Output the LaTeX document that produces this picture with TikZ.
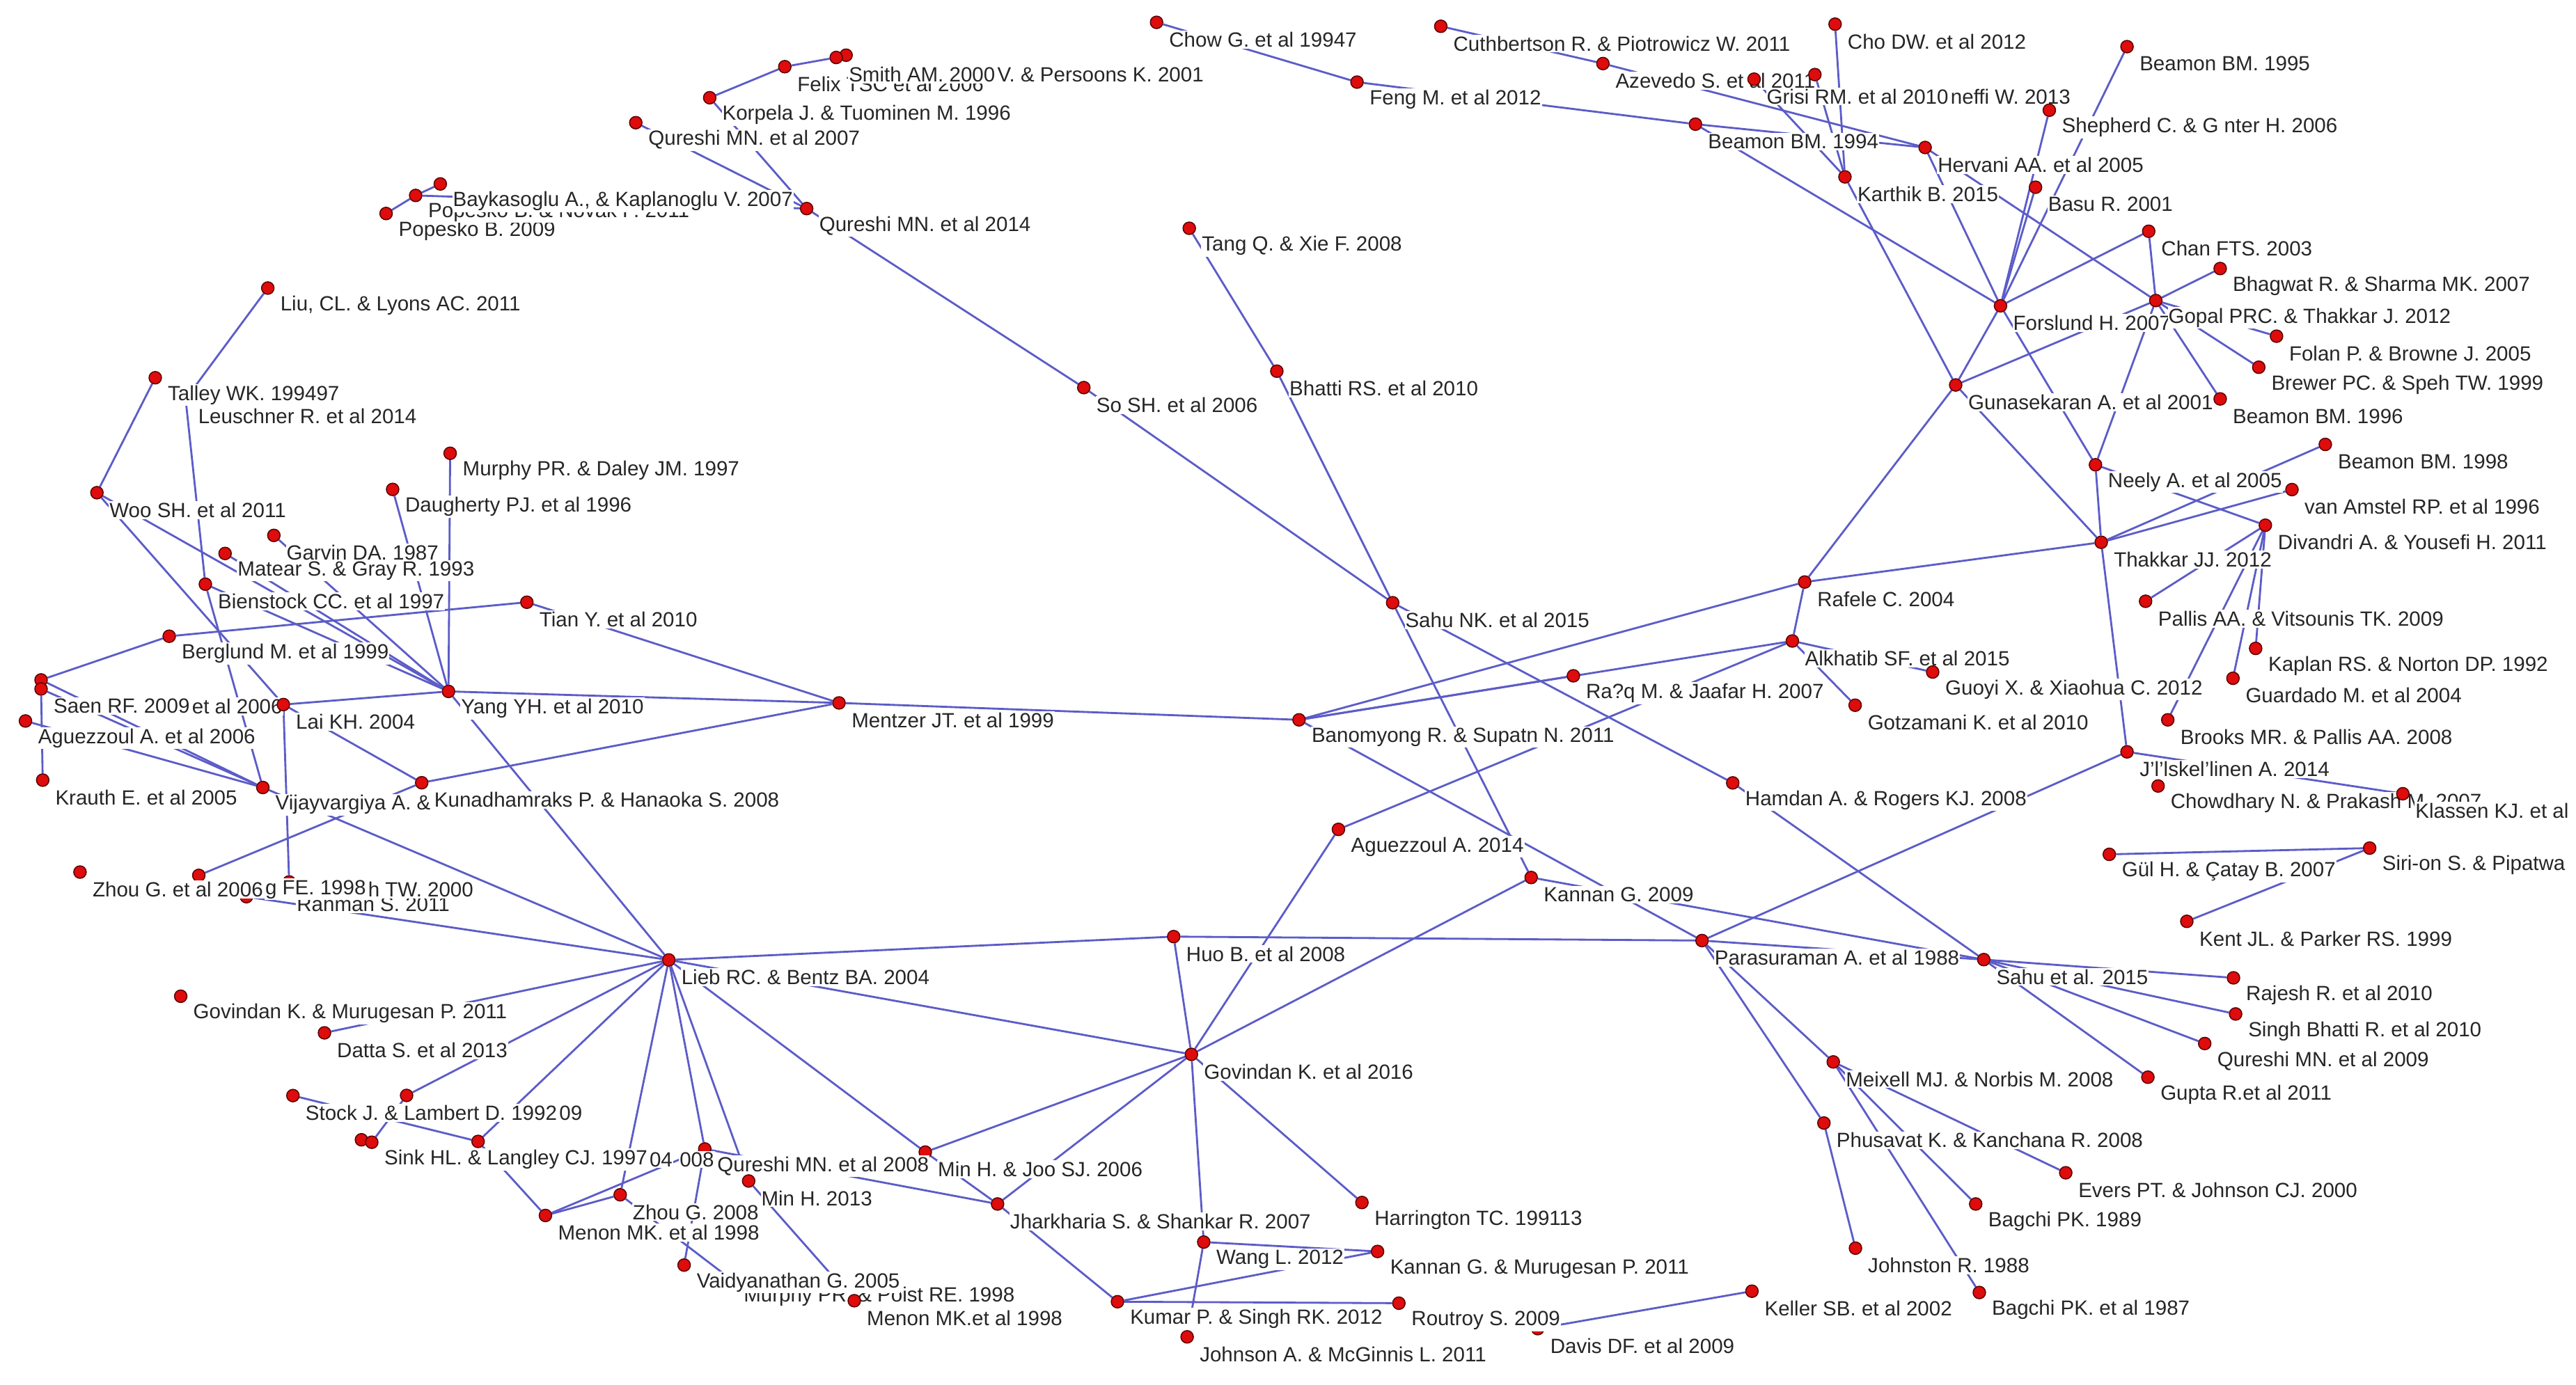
\documentclass[tikz,border=0pt]{standalone}
\usepackage{fontspec}
\setmainfont{Liberation Sans}
\usetikzlibrary{calc}
\pgfdeclarelayer{bg}
\pgfdeclarelayer{edges}
\pgfsetlayers{bg,edges,main}
\definecolor{edgeblue}{RGB}{92,92,200}
\definecolor{dotred}{RGB}{222,12,12}
\definecolor{dotrim}{RGB}{90,0,0}
\tikzset{
  dot/.style={circle, fill=dotred, draw=dotrim, line width=0.45pt, inner sep=0pt, minimum size=0.19cm},
  lab/.style={anchor=west, fill=white, inner xsep=0.3pt, inner ysep=0.6pt, text=black!85, font=\fontsize{8.9}{10}\selectfont},
  edge/.style={draw=edgeblue, line width=0.85pt}
}
\newcommand\Nd[4]{\node[dot] (#1) at (#2,#3) {}; \node[lab] (#1-l) at ($(#1)+(7,10.5)$) {#4};}
\newcommand\Dt[3]{\node[dot] (#1) at (#2,#3) {};}
\newcommand\La[4]{\node[lab] (#1-l) at (#2,#3) {#4};}
\newcommand\Lc[3]{\node[lab] (#1-l) at (#2.east) {#3};}
\newcommand\Ed[2]{\draw[edge] (#1) -- (#2);}
\begin{document}
\begin{tikzpicture}[x=0.025cm,y=-0.025cm]
\useasboundingbox (0,0) rectangle (1568,843);
\begin{pgfonlayer}{bg}
\fill[white] (0,0) rectangle (1568,843);
\end{pgfonlayer}
\clip (0,0) rectangle (1568,843);
% ---- top left
\Nd{popesko}{235}{130}{Popesko B. 2009}
\Dt{novak}{253}{119}
\La{novak}{260}{129}{Popesko B. \& Novak P. 2011}
\Nd{baykas}{268}{112}{Baykasoglu A., \& Kaplanoglu V. 2007}
\Nd{q07}{387}{74.7}{Qureshi MN. et al 2007}
\Nd{korpela}{432}{59.5}{Korpela J. \& Tuominen M. 1996}
\Nd{felix}{477.7}{40.6}{Felix TSC et al 2006}
\Dt{persoons}{515}{33.6}
\Nd{smith}{509}{35}{Smith AM. 2000}
\Lc{persoons}{smith-l}{V. \& Persoons K. 2001}
\Nd{q14}{491}{127}{Qureshi MN. et al 2014}
\Nd{so}{659.7}{236}{So SH. et al 2006}
\Nd{tang}{723.9}{139}{Tang Q. \& Xie F. 2008}
\Nd{bhattirs}{777.2}{226}{Bhatti RS. et al 2010}
\Nd{chow}{704}{13.6}{Chow G. et al 19947}
\Nd{feng}{826}{50}{Feng M. et al 2012}
\Nd{cuth}{877}{16}{Cuthbertson R. \& Piotrowicz W. 2011}
\Nd{azevedo}{975.7}{38.7}{Azevedo S. et al 2011}
\Dt{neffi}{1104.7}{45.4}
\Nd{grisi}{1067.7}{48.2}{Grisi RM. et al 2010}
\Lc{neffi}{grisi-l}{neffi W. 2013}
\Nd{cho}{1117}{14.7}{Cho DW. et al 2012}
% ---- top right
\Nd{beamon95}{1294.7}{28.4}{Beamon BM. 1995}
\Nd{shepherd}{1247.4}{67.1}{Shepherd C. \& G nter H. 2006}
\Nd{beamon94}{1032}{75.6}{Beamon BM. 1994}
\Nd{hervani}{1171.8}{89.8}{Hervani AA. et al 2005}
\Nd{karthik}{1123}{107.7}{Karthik B. 2015}
\Nd{basu}{1239}{114}{Basu R. 2001}
\Nd{chan}{1307.9}{140.8}{Chan FTS. 2003}
\Nd{bhagwat}{1351.4}{163.5}{Bhagwat R. \& Sharma MK. 2007}
\Nd{forslund}{1217.7}{186.2}{Forslund H. 2007}
\Nd{gopal}{1312.2}{183}{Gopal PRC. \& Thakkar J. 2012}
\Nd{folan}{1385.7}{204.7}{Folan P. \& Browne J. 2005}
\Nd{brewer}{1374.9}{223.6}{Brewer PC. \& Speh TW. 1999}
\Nd{guna}{1190.4}{234.4}{Gunasekaran A. et al 2001}
\Nd{beamon96}{1351.4}{242.9}{Beamon BM. 1996}
\Nd{beamon98}{1415.4}{270.6}{Beamon BM. 1998}
\Nd{neely}{1275.5}{283}{Neely A. et al 2005}
\Nd{vanamstel}{1395.1}{298.1}{van Amstel RP. et al 1996}
\Nd{divandri}{1378.9}{319.8}{Divandri A. \& Yousefi H. 2011}
\Nd{thakkar}{1279}{330.2}{Thakkar JJ. 2012}
\Nd{pallis}{1306}{366.1}{Pallis AA. \& Vitsounis TK. 2009}
\Nd{kaplan}{1373}{394.8}{Kaplan RS. \& Norton DP. 1992}
\Nd{guardado}{1359.2}{413}{Guardado M. et al 2004}
\Nd{brooks}{1319.5}{438.3}{Brooks MR. \& Pallis AA. 2008}
\Nd{jaas}{1294.7}{457.8}{J’l’lskel’linen A. 2014}
\Nd{chowdhary}{1313.6}{478.6}{Chowdhary N. \& Prakash M. 2007}
\Nd{klassen}{1462.6}{483.3}{Klassen KJ. et al}
\Nd{gul}{1283.9}{520.2}{Gül H. \& Çatay B. 2007}
\Nd{sirion}{1442.4}{516.4}{Siri-on S. \& Pipatwa}
\Nd{kent}{1331.1}{561}{Kent JL. \& Parker RS. 1999}
% ---- middle
\Nd{sahunk}{847.7}{367}{Sahu NK. et al 2015}
\Nd{rafele}{1098.5}{354.4}{Rafele C. 2004}
\Nd{alkhatib}{1091}{390.3}{Alkhatib SF. et al 2015}
\Nd{rafiq}{957.7}{411.5}{Ra?q M. \& Jaafar H. 2007}
\Nd{guoyi}{1176.4}{409.2}{Guoyi X. \& Xiaohua C. 2012}
\Nd{gotzamani}{1129.2}{429.4}{Gotzamani K. et al 2010}
\Nd{banom}{790.7}{438.3}{Banomyong R. \& Supatn N. 2011}
\Nd{mentzer}{510.7}{428}{Mentzer JT. et al 1999}
\Nd{hamdan}{1054.7}{476.7}{Hamdan A. \& Rogers KJ. 2008}
\Nd{aguez14}{814.7}{505}{Aguezzoul A. 2014}
\Nd{kannan09}{932}{534.3}{Kannan G. 2009}
\Nd{parasuraman}{1036}{572.7}{Parasuraman A. et al 1988}
\Nd{sahu15}{1207.5}{584.3}{Sahu et al. 2015}
\Nd{rajesh}{1359.5}{595.4}{Rajesh R. et al 2010}
\Nd{singh}{1360.8}{617.4}{Singh Bhatti R. et al 2010}
\Nd{q09}{1342}{635.4}{Qureshi MN. et al 2009}
\Nd{gupta}{1307.4}{655.9}{Gupta R.et al 2011}
\Nd{meixell}{1115.9}{646.6}{Meixell MJ. \& Norbis M. 2008}
\Nd{phusavat}{1110.2}{683.8}{Phusavat K. \& Kanchana R. 2008}
\Nd{evers}{1257.4}{714.1}{Evers PT. \& Johnson CJ. 2000}
\Nd{bagchi89}{1202.6}{733.1}{Bagchi PK. 1989}
\Nd{johnston}{1129.4}{760}{Johnston R. 1988}
\Nd{bagchi87}{1204.8}{787}{Bagchi PK. et al 1987}
\Nd{keller}{1066.4}{786.2}{Keller SB. et al 2002}
\Nd{davis}{936}{809}{Davis DF. et al 2009}
\Nd{routroy}{851.5}{793.5}{Routroy S. 2009}
\Nd{johnson}{722.6}{814}{Johnson A. \& McGinnis L. 2011}
\Nd{kumar}{680.2}{792.6}{Kumar P. \& Singh RK. 2012}
\Nd{wang}{732.7}{756.3}{Wang L. 2012}
\Nd{kannanM}{838.5}{762}{Kannan G. \& Murugesan P. 2011}
\Nd{harrington}{829}{732.2}{Harrington TC. 199113}
\Nd{jhark}{607.2}{733.1}{Jharkharia S. \& Shankar R. 2007}
\Nd{minjoo}{563.2}{701.5}{Min H. \& Joo SJ. 2006}
\Nd{gov16}{725.2}{642}{Govindan K. et al 2016}
\Nd{huo}{714.4}{570.3}{Huo B. et al 2008}
\Nd{lieb}{407.1}{584.5}{Lieb RC. \& Bentz BA. 2004}
% ---- lower left
\Nd{murphyP}{445}{779}{Murphy PR. \& Poist RE. 1998}
\Nd{vaid}{416.4}{770.3}{Vaidyanathan G. 2005}
\Nd{menon2}{520}{792}{Menon MK.et al 1998}
\Nd{q08}{429}{699.6}{Qureshi MN. et al 2008}
\Nd{min13}{455.7}{719.1}{Min H. 2013}
\Nd{zhou08}{377.5}{727.5}{Zhou G. 2008}
\Nd{menon98}{332}{740.1}{Menon MK. et al 1998}
\Dt{Y}{291}{695}
\Dt{x09}{247.5}{667}
\Nd{stock}{178.3}{667.1}{Stock J. \& Lambert D. 1992}
\Lc{x09}{stock-l}{09}
\Dt{sinka}{220}{694}
\Nd{sinkb}{226.3}{695.5}{Sink HL. \& Langley CJ. 1997}
\Lc{Y}{sinkb-l}{04}
\node[lab] (w-l) at ($(Y-l.east)+(3,0)$) {008};
\Nd{datta}{197.5}{628.9}{Datta S. et al 2013}
\Nd{govM}{110}{606.6}{Govindan K. \& Murugesan P. 2011}
\Dt{rahman}{150}{546}
\Dt{hfe}{121}{533}
\Dt{htw}{176}{537}
\La{rahman}{180}{550.5}{Rahman S. 2011}
\Nd{zhou06}{48.7}{531}{Zhou G. et al 2006}
\Lc{hfe}{zhou06-l}{g FE. 1998}
\Lc{htw}{hfe-l}{h TW. 2000}
% ---- upper left
\Nd{liu}{163}{175.4}{Liu, CL. \& Lyons AC. 2011}
\Nd{leuschner}{113}{243}{Leuschner R. et al 2014}
\Nd{talley}{94.5}{230}{Talley WK. 199497}
\Nd{woo}{59}{300}{Woo SH. et al 2011}
\Nd{murphyD}{274}{276}{Murphy PR. \& Daley JM. 1997}
\Nd{daugherty}{239}{298}{Daugherty PJ. et al 1996}
\Nd{garvin}{166.7}{326}{Garvin DA. 1987}
\Nd{matear}{137}{337}{Matear S. \& Gray R. 1993}
\Nd{bienstock}{125}{355.7}{Bienstock CC. et al 1997}
\Nd{tian}{320.7}{366.7}{Tian Y. et al 2010}
\Nd{berglund}{103}{387.4}{Berglund M. et al 1999}
\Nd{yang}{273}{421}{Yang YH. et al 2010}
\Dt{saen1}{25}{414}
\Nd{saen2}{25}{419.5}{Saen RF. 2009}
\Lc{saen1}{saen2-l}{et al 2006}
\Nd{aguez06}{15.5}{439}{Aguezzoul A. et al 2006}
\Nd{lai}{172.5}{429}{Lai KH. 2004}
\Nd{krauth}{26}{475}{Krauth E. et al 2005}
\Nd{vijay}{160}{479.5}{Vijayvargiya A. \&}
\Nd{kunad}{256.7}{476.6}{Kunadhamraks P. \& Hanaoka S. 2008}
% ---- edges
\begin{pgfonlayer}{edges}
\Ed{popesko}{novak}\Ed{novak}{baykas}\Ed{novak}{q14}\Ed{q07}{q14}\Ed{korpela}{q14}
\Ed{korpela}{felix}\Ed{felix}{smith}\Ed{smith}{persoons}\Ed{q14}{so}\Ed{so}{sahunk}
\Ed{tang}{bhattirs}\Ed{bhattirs}{sahunk}\Ed{sahunk}{kannan09}\Ed{sahunk}{hamdan}
\Ed{chow}{feng}\Ed{feng}{beamon94}\Ed{cuth}{azevedo}\Ed{azevedo}{hervani}
\Ed{grisi}{karthik}\Ed{cho}{karthik}\Ed{neffi}{karthik}\Ed{beamon94}{hervani}
\Ed{beamon94}{forslund}\Ed{beamon95}{forslund}\Ed{shepherd}{forslund}\Ed{basu}{forslund}
\Ed{hervani}{forslund}\Ed{hervani}{gopal}\Ed{chan}{forslund}\Ed{chan}{gopal}
\Ed{bhagwat}{gopal}\Ed{gopal}{folan}\Ed{gopal}{brewer}\Ed{gopal}{beamon96}
\Ed{gopal}{neely}\Ed{gopal}{guna}\Ed{forslund}{guna}\Ed{forslund}{neely}
\Ed{karthik}{guna}\Ed{guna}{rafele}\Ed{guna}{thakkar}\Ed{neely}{thakkar}
\Ed{neely}{divandri}\Ed{thakkar}{vanamstel}\Ed{thakkar}{beamon98}\Ed{thakkar}{jaas}
\Ed{rafele}{thakkar}\Ed{pallis}{divandri}\Ed{divandri}{kaplan}\Ed{divandri}{guardado}
\Ed{divandri}{brooks}\Ed{jaas}{klassen}\Ed{jaas}{parasuraman}\Ed{gul}{sirion}\Ed{sirion}{kent}
\Ed{mentzer}{banom}\Ed{banom}{rafele}\Ed{banom}{rafiq}\Ed{banom}{alkhatib}
\Ed{rafele}{alkhatib}\Ed{alkhatib}{gotzamani}\Ed{alkhatib}{guoyi}\Ed{aguez14}{alkhatib}
\Ed{aguez14}{gov16}\Ed{banom}{parasuraman}\Ed{kannan09}{sahu15}\Ed{gov16}{kannan09}
\Ed{hamdan}{sahu15}\Ed{parasuraman}{sahu15}\Ed{sahu15}{rajesh}\Ed{sahu15}{singh}
\Ed{sahu15}{q09}\Ed{sahu15}{gupta}\Ed{parasuraman}{meixell}\Ed{parasuraman}{phusavat}
\Ed{phusavat}{johnston}\Ed{meixell}{bagchi87}\Ed{meixell}{bagchi89}\Ed{meixell}{evers}
\Ed{huo}{parasuraman}\Ed{lieb}{huo}\Ed{lieb}{gov16}\Ed{lieb}{minjoo}\Ed{huo}{gov16}
\Ed{gov16}{wang}\Ed{gov16}{harrington}\Ed{gov16}{jhark}\Ed{minjoo}{jhark}\Ed{minjoo}{gov16}
\Ed{q08}{jhark}\Ed{jhark}{kumar}\Ed{kumar}{routroy}\Ed{kumar}{kannanM}\Ed{wang}{kannanM}
\Ed{wang}{johnson}\Ed{keller}{davis}\Ed{min13}{menon2}
\Ed{lieb}{q08}\Ed{lieb}{min13}\Ed{lieb}{zhou08}\Ed{lieb}{Y}\Ed{lieb}{x09}\Ed{lieb}{datta}
\Ed{vijay}{lieb}\Ed{yang}{lieb}\Ed{rahman}{lieb}\Ed{q08}{vaid}\Ed{zhou08}{murphyP}
\Ed{menon98}{q08}\Ed{menon98}{zhou08}\Ed{Y}{menon98}\Ed{stock}{Y}\Ed{sinkb}{x09}
\Ed{liu}{leuschner}\Ed{talley}{woo}\Ed{leuschner}{bienstock}\Ed{bienstock}{vijay}
\Ed{woo}{lai}\Ed{woo}{yang}\Ed{murphyD}{yang}\Ed{daugherty}{yang}\Ed{garvin}{yang}
\Ed{matear}{yang}\Ed{bienstock}{yang}\Ed{berglund}{tian}\Ed{tian}{mentzer}
\Ed{yang}{mentzer}\Ed{yang}{lai}\Ed{kunad}{mentzer}\Ed{lai}{kunad}\Ed{berglund}{saen1}
\Ed{saen2}{krauth}\Ed{aguez06}{vijay}\Ed{saen1}{vijay}\Ed{saen2}{vijay}\Ed{kunad}{hfe}
\Ed{lai}{htw}
\end{pgfonlayer}
\end{tikzpicture}
\end{document}
